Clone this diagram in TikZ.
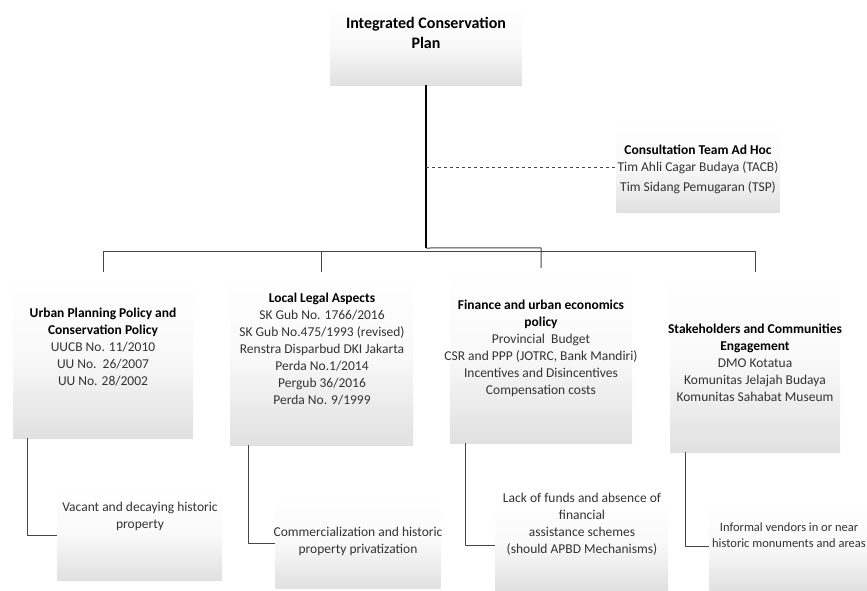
\documentclass[tikz,border=0pt]{standalone}
\usepackage{fontspec}
\setmainfont{Carlito}
\usetikzlibrary{positioning}
\definecolor{qqqqqq}{rgb}{0,0,0}
\definecolor{sqsqsq}{rgb}{0.27,0.27,0.27}
\definecolor{uququq}{rgb}{0.2,0.2,0.2}
\definecolor{ebebeb}{rgb}{0.88,0.88,0.88}
\tikzset{
  pane/.style={rectangle,top color=white,bottom color=ebebeb,middle color=white!80!ebebeb,inner sep=0pt},
  caption/.style={align=center,text=uququq,font=\fontsize{13.5}{17}\selectfont},
  trunk/.style={line width=1.6pt,color=qqqqqq},
  branch/.style={line width=1pt,color=sqsqsq}
}
\begin{document}
\begin{tikzpicture}[line join=round,x=1pt,y=-1pt]
      \useasboundingbox (0,0) rectangle (867,590);
      \node[pane,minimum width=192pt,minimum height=80pt] (title) at (426,45) {};
      \node[pane,minimum width=163pt,minimum height=90pt] (consult) at (698,167) {};
      \node[pane,minimum width=180pt,minimum height=166pt] (urban) at (103,355) {};
      \node[pane,minimum width=183pt,minimum height=173pt] (legal) at (321.5,358.5) {};
      \node[pane,minimum width=182pt,minimum height=175pt] (finance) at (541,355.5) {};
      \node[pane,minimum width=170pt,minimum height=180pt] (stake) at (755,362) {};
      \node[pane,minimum width=165pt,minimum height=90pt] (vacant) at (139.5,535) {};
      \node[pane,minimum width=165pt,minimum height=90pt] (commerce) at (358,543) {};
      \node[pane,minimum width=173pt,minimum height=90pt] (funds) at (581.5,545) {};
      \node[pane,minimum width=175pt,minimum height=90pt] (vendors) at (797,546) {};
      \node[caption,text=qqqqqq,font=\fontsize{16}{20}\selectfont\bfseries] (title-txt) at (426,33) {Integrated Conservation\\Plan};
      \node[caption] (consult-txt) at (698,169) {\textbf{\color{qqqqqq}Consultation Team Ad Hoc}\\Tim Ahli Cagar Budaya (TACB)\\[3pt]Tim Sidang Pemugaran (TSP)};
      \node[caption] (urban-txt) at (103,347) {\textbf{\color{qqqqqq}Urban Planning Policy and}\\\textbf{\color{qqqqqq}Conservation Policy}\\UUCB No. 11/2010\\UU No.~~26/2007\\UU No. 28/2002};
      \node[caption] (legal-txt) at (322,349.5) {\textbf{\color{qqqqqq}Local Legal Aspects}\\SK Gub No. 1766/2016\\SK Gub No.475/1993 (revised)\\Renstra Disparbud DKI Jakarta\\Perda No.1/2014\\Pergub 36/2016\\Perda No. 9/1999};
      \node[caption] (finance-txt) at (541,348.5) {\textbf{\color{qqqqqq}Finance and urban economics}\\\textbf{\color{qqqqqq}policy}\\Provincial~~Budget\\CSR and PPP (JOTRC, Bank Mandiri)\\Incentives and Disincentives\\Compensation costs};
      \node[caption] (stake-txt) at (755,363) {\textbf{\color{qqqqqq}Stakeholders and Communities}\\\textbf{\color{qqqqqq}Engagement}\\DMO Kotatua\\Komunitas Jelajah Budaya\\Komunitas Sahabat Museum};
      \node[caption] (vacant-txt) at (140,516.5) {Vacant and decaying historic\\property};
      \node[caption] (commerce-txt) at (358,541.5) {Commercialization and historic\\property privatization};
      \node[caption] (funds-txt) at (582,524.5) {Lack of funds and absence of\\financial\\assistance schemes\\(should APBD Mechanisms)};
      \node[caption,font=\fontsize{12.5}{16.5}\selectfont] (vendors-txt) at (789,535) {Informal vendors in or near\\historic monuments and areas};
      \coordinate (hub) at (426,248);
      \coordinate (tap) at (426,167);
      \draw[trunk] (title) -- (hub);
      \draw[branch,dashed] (tap) -- (consult.west);
      \draw[branch] (urban.north) -- ++(0,-20) -| (stake.north);
      \draw[branch] (legal.north) -- ++(0,-20);
      \draw[branch] (finance.north) -- ++(0,-20) -- (hub);
      \draw[branch] ([xshift=15pt]urban.south west) |- (vacant.west);
      \draw[branch] ([xshift=19pt]legal.south west) |- (commerce.west);
      \draw[branch] ([xshift=16pt]finance.south west) |- (funds.west);
      \draw[branch] ([xshift=16pt]stake.south west) |- (vendors.west);
    \end{tikzpicture}
\end{document}
